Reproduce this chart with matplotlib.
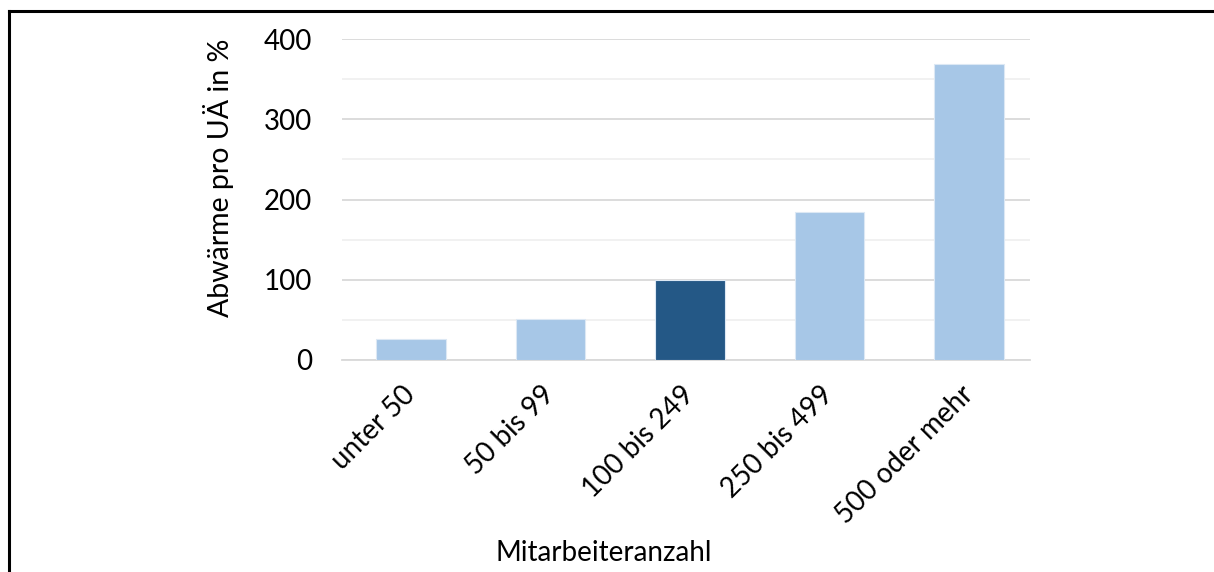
import matplotlib
matplotlib.use('Agg')
import matplotlib.pyplot as plt
from matplotlib.lines import Line2D

categories = ['unter 50', '50 bis 99', '100 bis 249', '250 bis 499', '500 oder mehr']
values = [26, 51, 100, 185, 369]
colors = ['#A7C7E7', '#A7C7E7', '#245886', '#A7C7E7', '#A7C7E7']
yticks = [0, 100, 200, 300, 400]

plt.rcParams['font.family'] = ['Lato', 'DejaVu Sans']

fig = plt.figure(figsize=(12.14, 5.72), dpi=100)
ax = fig.add_axes([342/1214, 1-360/572, (1030-342)/1214, (360-39)/572])

x = list(range(len(categories)))
ax.bar(x, values, width=0.5, color=colors, edgecolor='#DCE8F4', linewidth=0.8, zorder=3)

ax.set_ylim(0, 400)
ax.set_xlim(-0.495, 4.437)
ax.set_yticks(yticks)
ax.set_yticks(range(50, 400, 100), minor=True)
ax.yaxis.grid(True, which='major', color='#D9D9D9', linewidth=1.3, zorder=0)
ax.yaxis.grid(True, which='minor', color='#F0F0F0', linewidth=1.3, zorder=0)
ax.tick_params(axis='y', which='both', length=0, labelsize=20, pad=21.5)
ax.tick_params(axis='x', length=0, pad=22)
for s in ['top', 'right', 'left']:
    ax.spines[s].set_visible(False)
ax.spines['bottom'].set_color('#D9D9D9')
ax.spines['bottom'].set_linewidth(1.3)

ax.set_xticks(x)
ax.set_xticklabels(categories, rotation=45, ha='right', va='center',
                   rotation_mode='anchor', fontsize=20)

fig.text(218/1214, 1-178/572, 'Abwärme pro UÄ in %', fontsize=20.5, rotation=90,
         ha='center', va='center')
fig.text(604/1214, 1-553/572, 'Mitarbeiteranzahl', fontsize=20, ha='center', va='center')

# frame (only left and top edges visible)
fig.add_artist(Line2D([9/1214, 9/1214], [0, 1-11/572], transform=fig.transFigure,
                      color='black', linewidth=2.2))
fig.add_artist(Line2D([9/1214, 1], [1-11/572, 1-11/572], transform=fig.transFigure,
                      color='black', linewidth=2.2))

fig.savefig('out.png', dpi=100)
